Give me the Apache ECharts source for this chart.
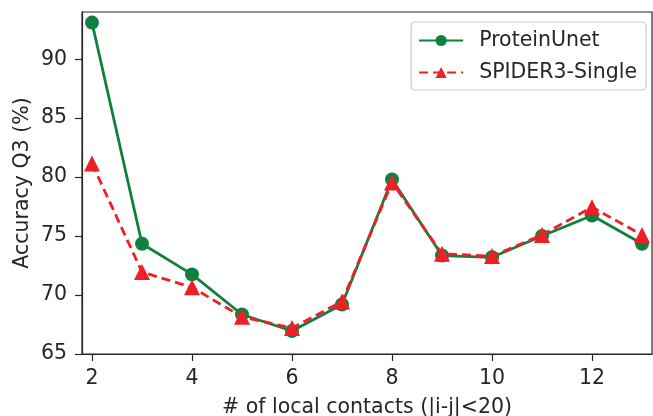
<!DOCTYPE html>
<html>
<head>
<meta charset="utf-8">
<script src="https://cdn.jsdelivr.net/npm/echarts@6/dist/echarts.min.js"></script>
<style>
html,body{margin:0;padding:0;background:#fff;}
#chart{width:653px;height:416px;}
</style>
</head>
<body>
<div id="chart"></div>
<script>
const contacts = [2, 3, 4, 5, 6, 7, 8, 9, 10, 11, 12, 13];
const proteinUnet = [93.1, 74.35, 71.75, 68.35, 66.95, 69.2, 79.8, 73.35, 73.2, 75.0, 76.75, 74.35];
const spider3 = [81.15, 71.95, 70.65, 68.15, 67.2, 69.45, 79.55, 73.5, 73.3, 75.1, 77.45, 75.1];
const xTicks = [2, 4, 6, 8, 10, 12];
const yTicks = [65, 70, 75, 80, 85, 90];

const font = 'DejaVu Sans';
const txt = '#262626';
const fs = 20.5;
const chart = echarts.init(document.getElementById('chart'), null, {renderer: 'canvas'});
const pairs = (ys) => contacts.map((x, i) => [x, ys[i]]);

chart.setOption({
  animation: false,
  backgroundColor: '#ffffff',
  grid: {left: 82, right: 1, top: 12, bottom: 62, outerBoundsMode: 'none', containLabel: false,
         show: true, borderColor: txt, borderWidth: 1.2, backgroundColor: 'transparent'},
  legend: {
    orient: 'vertical', right: 7, top: 22,
    itemWidth: 44, itemHeight: 14, itemGap: 11,
    padding: [8, 9, 7, 7],
    borderColor: '#cccccc', borderWidth: 1.2, borderRadius: 4, backgroundColor: '#ffffff',
    textStyle: {fontFamily: font, fontSize: fs, color: txt, padding: [0, 0, 0, 11]},
    data: ['ProteinUnet', 'SPIDER3-Single']
  },
  xAxis: {
    type: 'value', min: 1.8, max: 13.2,
    name: '# of local contacts (|i-j|<20)', nameLocation: 'middle', nameGap: 43, nameMoveOverlap: false,
    nameTextStyle: {fontFamily: font, fontSize: fs, color: txt},
    axisLine: {show: true, onZero: false, lineStyle: {color: txt, width: 1.2}},
    axisTick: {show: true, length: 7, customValues: xTicks, lineStyle: {color: txt, width: 1.2}},
    axisLabel: {customValues: xTicks, margin: 14, fontFamily: font, fontSize: fs, color: txt},
    splitLine: {show: false}
  },
  yAxis: {
    type: 'value', min: 65, max: 94,
    name: 'Accuracy Q3 (%)', nameLocation: 'middle', nameGap: 49, nameMoveOverlap: false,
    nameTextStyle: {fontFamily: font, fontSize: fs, color: txt},
    axisLine: {show: true, onZero: false, lineStyle: {color: txt, width: 1.2}},
    axisTick: {show: true, length: 7, customValues: yTicks, lineStyle: {color: txt, width: 1.2}},
    axisLabel: {customValues: yTicks, margin: 15, fontFamily: font, fontSize: fs, color: txt},
    splitLine: {show: false}
  },
  series: [
    {
      name: 'ProteinUnet', type: 'line', data: pairs(proteinUnet),
      symbol: 'circle', symbolSize: 14,
      itemStyle: {color: '#10803f'},
      lineStyle: {color: '#10803f', width: 2.8},
      z: 2
    },
    {
      name: 'SPIDER3-Single', type: 'line', data: pairs(spider3),
      symbol: 'triangle', symbolSize: 16,
      itemStyle: {color: '#ee1f25'},
      lineStyle: {color: '#ee1f25', width: 2.8, type: [9, 5]},
      z: 3
    }
  ]
});
</script>
</body>
</html>
